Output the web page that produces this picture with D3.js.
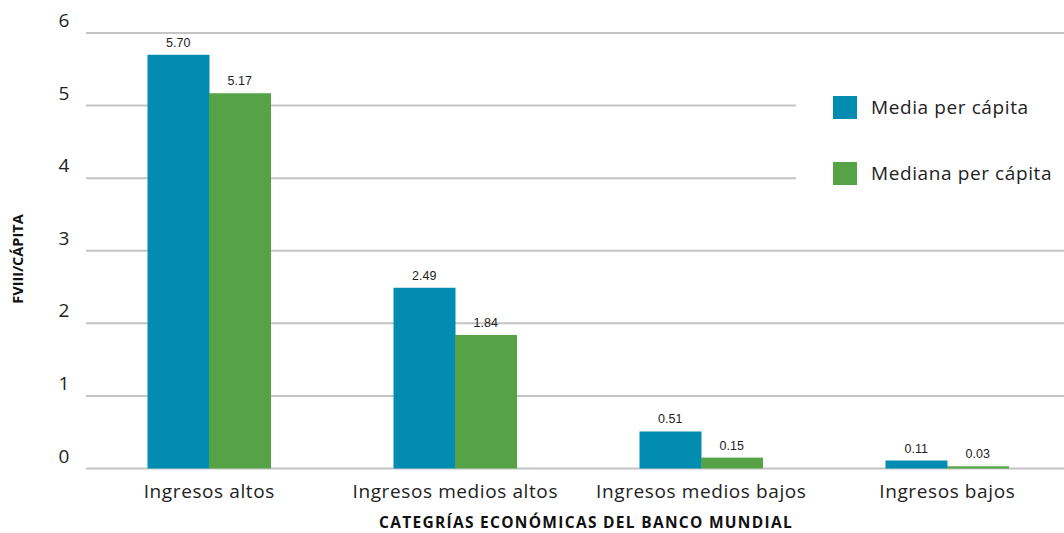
<!DOCTYPE html>
<html>
<head>
<meta charset="utf-8">
<script src="https://cdn.jsdelivr.net/npm/d3@7"></script>
<style>
    body { margin: 0; background: #fff; }
    svg { display: block; font-family: "Open Sans", "Noto Sans", sans-serif; }
    .tick_lab { font-size: 19px; fill: #222; }
    .cat_lab { font-size: 19px; fill: #222; letter-spacing: 0.6px; }
    .val_lab { font-size: 12.5px; fill: #222; font-family: "Liberation Sans", Arial, sans-serif; }
    .x_title { font-size: 15.5px; font-weight: bold; fill: #111; letter-spacing: 1.3px; }
    .y_title { font-size: 14.5px; font-weight: bold; fill: #111; }
    .leg_lab { font-size: 19px; fill: #222; letter-spacing: 0.6px; }
</style>
</head>
<body>
<svg id="chart" width="1064" height="533"></svg>
<script>
var categories = ["Ingresos altos", "Ingresos medios altos", "Ingresos medios bajos", "Ingresos bajos"];
var series_names = ["Media per cápita", "Mediana per cápita"];
var media = [5.70, 2.49, 0.51, 0.11];
var mediana = [5.17, 1.84, 0.15, 0.03];
var y_ticks = [0, 1, 2, 3, 4, 5, 6];
var colors = ["#028cb1", "#55a346"];

var width = 1064;
var height = 533;
var svg = d3.select("#chart");

var x = d3.scaleBand().domain(categories).range([86, 1070]).paddingInner(0.5).paddingOuter(0.25);
var xs = d3.scaleBand().domain(series_names).range([0, x.bandwidth()]);
var y = d3.scaleLinear().domain([0, 6]).range([468.5, 33]);

// grid lines
svg.append("g").selectAll("line")
        .data(y_ticks)
        .enter().append("line")
        .attr("x1", 86)
        .attr("x2", width)
        .attr("y1", function (d) { return y(d); })
        .attr("y2", function (d) { return y(d); })
        .attr("stroke", "#c4c4c4")
        .attr("stroke-width", 2);

// tick labels
svg.append("g").selectAll("text")
        .data(y_ticks)
        .enter().append("text")
        .attr("class", "tick_lab")
        .attr("x", 64)
        .attr("y", function (d) { return y(d) - 6; })
        .attr("text-anchor", "middle")
        .text(function (d) { return d; });

// legend background hides the grid
svg.append("rect")
        .attr("x", 796).attr("y", 60)
        .attr("width", width - 796).attr("height", 150)
        .attr("fill", "#fff");

var rows = [];
for (var i = 0; i < categories.length; i++) {
    rows.push({cat: categories[i], key: series_names[0], v: media[i], c: colors[0]});
    rows.push({cat: categories[i], key: series_names[1], v: mediana[i], c: colors[1]});
}

svg.append("g").selectAll("rect")
        .data(rows)
        .enter().append("rect")
        .attr("x", function (d) { return x(d.cat) + xs(d.key); })
        .attr("y", function (d) { return y(d.v); })
        .attr("width", xs.bandwidth() + 0.5)
        .attr("height", function (d) { return y(0) - y(d.v); })
        .attr("fill", function (d) { return d.c; });

svg.append("g").selectAll("text")
        .data(rows)
        .enter().append("text")
        .attr("class", "val_lab")
        .attr("x", function (d) { return x(d.cat) + xs(d.key) + xs.bandwidth() / 2; })
        .attr("y", function (d) { return y(d.v) - 8; })
        .attr("text-anchor", "middle")
        .text(function (d) { return d.v.toFixed(2); });

// category labels
svg.append("g").selectAll("text")
        .data(categories)
        .enter().append("text")
        .attr("class", "cat_lab")
        .attr("x", function (d) { return x(d) + x.bandwidth() / 2 + 0.3; })
        .attr("y", 498)
        .attr("text-anchor", "middle")
        .text(function (d) { return d; });

// axis titles
svg.append("text")
        .attr("class", "x_title")
        .attr("x", 586)
        .attr("y", 528)
        .attr("text-anchor", "middle")
        .text("CATEGRÍAS ECONÓMICAS DEL BANCO MUNDIAL");
svg.append("text")
        .attr("class", "y_title")
        .attr("transform", "translate(23,259) rotate(-90)")
        .attr("text-anchor", "middle")
        .text("FVIII/CÁPITA");

// legend
var leg = svg.append("g").selectAll("g")
        .data(series_names)
        .enter().append("g")
        .attr("transform", function (d, i) { return "translate(833," + (96 + i * 66) + ")"; });
leg.append("rect")
        .attr("width", 24).attr("height", 23)
        .attr("fill", function (d, i) { return colors[i]; });
leg.append("text")
        .attr("class", "leg_lab")
        .attr("x", 38)
        .attr("y", 18)
        .text(function (d) { return d; });
</script>
</body>
</html>
